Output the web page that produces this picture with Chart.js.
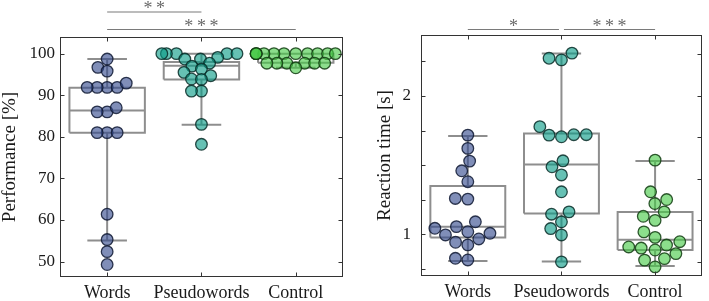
<!DOCTYPE html>
<html><head><meta charset="utf-8">
<script src="https://cdn.jsdelivr.net/npm/chart.js@4.4.1/dist/chart.umd.min.js"></script>
<style>
html,body{margin:0;padding:0;background:#fff;}
#wrap{position:relative;width:709px;height:301px;overflow:hidden;background:#fff}
.panel{position:absolute;top:0;height:301px}
#p1{left:0;width:350px}
#p2{left:360px;width:349px}
</style></head><body>
<div id="wrap"><div class="panel" id="p1"><canvas id="c1"></canvas></div><div class="panel" id="p2"><canvas id="c2"></canvas></div></div>
<script>
// ---------- DATA ----------
const categories = ['Words', 'Pseudowords', 'Control'];

// Performance [%]
const perfWords   = [98.7, 96.7, 95.8, 91.9, 91.9, 91.9, 91.9, 92.9, 86, 86, 87, 81, 81, 81, 61.4, 55.3, 52.4, 49.3];
const perfPseudo  = [100, 100, 100, 100, 100, 99.1, 98.7, 98.7, 97.7, 97, 96.3, 95.5, 94.7, 93.9, 93.8, 91, 91, 83, 78.2];
const perfControl = [100, 100, 100, 100, 100, 100, 100, 100, 100, 100, 100, 97.7, 97.7, 97.7, 97.7, 97.7, 97.7, 96.6];
const perfLow  = [55.1, 82.9, 96.6];
const perfQ1   = [81, 93.8, 97.8];
const perfMed  = [86.3, 97.1, 100];
const perfQ3   = [91.8, 98.0, 100];
const perfHigh = [98.7, 100, 100];
const perfTicks = [50, 60, 70, 80, 90, 100];
const perfSig = [{a: 1, b: 2, label: '**', level: 1}, {a: 1, b: 3, label: '***', level: 0}];

// Reaction time [s]
const rtWords   = [1.717, 1.621, 1.529, 1.459, 1.38, 1.259, 1.254, 1.09, 1.055, 1.043, 1.018, 1.007, 0.995, 0.966, 0.942, 0.923, 0.826, 0.814];
const rtPseudo  = [2.31, 2.273, 2.261, 1.778, 1.72, 1.72, 1.717, 1.705, 1.531, 1.488, 1.429, 1.307, 1.162, 1.145, 1.09, 1.041, 0.995, 0.80];
const rtControl = [1.536, 1.307, 1.251, 1.222, 1.162, 1.13, 1.10, 1.017, 0.977, 0.946, 0.922, 0.908, 0.90, 0.886, 0.86, 0.824, 0.813, 0.764];
const rtLow  = [0.807, 0.802, 0.771];
const rtQ1   = [0.976, 1.15, 0.886];
const rtMed  = [1.055, 1.504, 0.961];
const rtQ3   = [1.349, 1.729, 1.161];
const rtHigh = [1.711, 2.307, 1.53];
const rtTicks = [1, 2];
const rtLeftMarks = [0.75, 1, 1.25, 1.5, 1.75, 2, 2.25];
const rtRightMarks = [0.8, 1.1, 1.4, 1.7, 2.0, 2.3];
const rtSig = [{a: 1, b: 2, label: '*', level: 0}, {a: 2, b: 3, label: '***', level: 0}];

// ---------- STYLE ----------
const SERIF = "'Liberation Serif', 'Times New Roman', serif";
const fills   = ['rgba(50,72,141,0.62)', 'rgba(8,155,134,0.62)', 'rgba(69,201,69,0.62)'];
const borders = ['rgba(15,25,50,0.85)', 'rgba(8,45,40,0.85)', 'rgba(18,60,18,0.85)'];
const BOX_COLOR = '#8e8e8e';

function boxPath(i, low, q1, med, q3, high) {
  const c = i + 1, w = 0.4, cw = 0.21;
  return [
    {x: c - w, y: q1}, {x: c + w, y: q1}, {x: c + w, y: q3}, {x: c - w, y: q3}, {x: c - w, y: q1}, {x: c, y: null},
    {x: c - w, y: med}, {x: c + w, y: med}, {x: c, y: null},
    {x: c, y: q3}, {x: c, y: high}, {x: c, y: null},
    {x: c - cw, y: high}, {x: c + cw, y: high}, {x: c, y: null},
    {x: c, y: q1}, {x: c, y: low}, {x: c, y: null},
    {x: c - cw, y: low}, {x: c + cw, y: low}
  ];
}

const framePlugin = {
  id: 'frame',
  afterDatasetsDraw(chart, args, o) {
    const {ctx, chartArea: a, scales: {x, y}} = chart;
    ctx.save();
    ctx.strokeStyle = '#333';
    ctx.lineWidth = 1;
    const L = Math.round(a.left) + 0.5, R = Math.round(a.right) - 0.5, T = Math.round(a.top) + 0.5, B = Math.round(a.bottom) - 0.5;
    ctx.strokeRect(L, T, R - L, B - T);
    const len = 4;
    ctx.beginPath();
    for (const v of o.xMarks) {
      const px = Math.round(x.getPixelForValue(v)) + 0.5;
      ctx.moveTo(px, T); ctx.lineTo(px, T + len);
      ctx.moveTo(px, B); ctx.lineTo(px, B - len);
    }
    for (const v of o.leftMarks) {
      const py = Math.round(y.getPixelForValue(v)) + 0.5;
      ctx.moveTo(L, py); ctx.lineTo(L + len, py);
    }
    for (const v of o.rightMarks) {
      const py = Math.round(y.getPixelForValue(v)) + 0.5;
      ctx.moveTo(R, py); ctx.lineTo(R - len, py);
    }
    ctx.stroke();
    ctx.restore();
  }
};

const sigPlugin = {
  id: 'sig',
  afterDraw(chart, args, o) {
    const {ctx, scales: {x}} = chart;
    ctx.save();
    o.pairs.forEach(p => {
      const ly = o.levelY[p.level];
      let x1 = x.getPixelForValue(p.a), x2 = x.getPixelForValue(p.b);
      o.pairs.forEach(q => {
        if (q === p || q.level !== p.level) return;
        if (q.a === p.b) x2 -= o.trim;
        if (q.b === p.a) x1 += o.trim;
      });
      ctx.strokeStyle = o.lineColor;
      ctx.lineWidth = 1.2;
      ctx.beginPath();
      ctx.moveTo(x1, ly + 0.5); ctx.lineTo(x2, ly + 0.5);
      ctx.stroke();
      ctx.fillStyle = '#6a6a6a';
      ctx.font = '18px ' + SERIF;
      ctx.textAlign = 'center';
      ctx.textBaseline = 'alphabetic';
      const label = p.label.split('').join('\u2009');
      ctx.fillText(label, (x1 + x2) / 2, ly + o.textDy);
    });
    ctx.restore();
  }
};

function makeChart(canvasId, groups, box, cfg) {
  const datasets = [];
  groups.forEach((vals, i) => {
    datasets.push({
      type: 'scatter',
      label: categories[i],
      data: vals.map(v => ({x: i + 1, y: v})),
      backgroundColor: fills[i],
      borderColor: borders[i],
      borderWidth: 1.3,
      pointRadius: 5.8,
      pointHoverRadius: 5.8,
      order: 1
    });
  });
  groups.forEach((vals, i) => {
    datasets.push({
      type: 'line',
      label: categories[i] + ' box',
      data: boxPath(i, box.low[i], box.q1[i], box.med[i], box.q3[i], box.high[i]),
      borderColor: BOX_COLOR,
      borderWidth: 2,
      pointRadius: 0,
      fill: false,
      spanGaps: false,
      tension: 0,
      order: 2
    });
  });
  const chart = new Chart(document.getElementById(canvasId), {
    type: 'scatter',
    data: {datasets},
    options: {
      responsive: true,
      maintainAspectRatio: false,
      animation: false,
      events: [],
      layout: {padding: {top: cfg.padTop, right: cfg.padRight, left: 0, bottom: 0}},
      plugins: {
        legend: {display: false},
        tooltip: {enabled: false},
        frame: {xMarks: [1, 2, 3], leftMarks: cfg.leftMarks, rightMarks: cfg.rightMarks},
        sig: {pairs: cfg.sig, levelY: cfg.levelY, trim: 2.5, textDy: 2.5, lineColor: '#7a7a7a'}
      },
      scales: {
        x: {
          type: 'linear', min: 0.5, max: 3.5,
          afterBuildTicks: s => { s.ticks = [1, 2, 3].map(v => ({value: v})); },
          afterFit: s => { s.height = cfg.xHeight; },
          grid: {display: false, drawTicks: false},
          border: {display: false},
          ticks: {
            autoSkip: false, maxRotation: 0, minRotation: 0, padding: 5,
            color: '#1a1a1a', font: {family: SERIF, size: 18},
            callback: v => categories[v - 1]
          }
        },
        y: {
          type: 'linear', min: cfg.yMin, max: cfg.yMax,
          afterBuildTicks: s => { s.ticks = cfg.yTicks.map(v => ({value: v})); },
          afterFit: s => { s.width = cfg.yWidth; },
          grid: {display: false, drawTicks: false},
          border: {display: false},
          ticks: {padding: cfg.yPad, color: '#1a1a1a', font: {family: SERIF, size: 17}, callback: v => String(v)},
          title: {display: true, text: cfg.title, color: '#1a1a1a', font: {family: SERIF, size: 19, lineHeight: 1}, padding: {top: cfg.titlePad, bottom: 0}}
        }
      }
    },
    plugins: [framePlugin, sigPlugin]
  });

  // beeswarm layout of the points, in pixel space
  const xs = chart.scales.x, ys = chart.scales.y;
  const ppu = xs.getPixelForValue(2) - xs.getPixelForValue(1);
  const D = cfg.swarmGap, maxOff = 0.42 * ppu;
  groups.forEach((vals, gi) => {
    const order = vals.map((v, i) => i).sort((a, b) => vals[a] - vals[b]);
    const placed = [];
    const off = new Array(vals.length).fill(0);
    for (const i of order) {
      const py = ys.getPixelForValue(vals[i]);
      const cands = [0];
      for (const p of placed) {
        const dy = Math.abs(p.y - py);
        if (dy < D) { const dx = Math.sqrt(D * D - dy * dy); cands.push(p.x + dx, p.x - dx); }
      }
      cands.sort((a, b) => (Math.abs(a) - Math.abs(b)) || (a - b));
      let chosen = 0;
      for (const c of cands) {
        if (placed.every(p => (p.x - c) ** 2 + (p.y - py) ** 2 >= D * D - 0.01)) { chosen = c; break; }
      }
      if (Math.abs(chosen) > maxOff) chosen = Math.sign(chosen) * maxOff;
      placed.push({x: chosen, y: py});
      off[i] = chosen;
    }
    chart.data.datasets[gi].data = vals.map((v, i) => ({x: gi + 1 + off[i] / ppu, y: v}));
  });
  chart.update('none');
  return chart;
}

makeChart('c1', [perfWords, perfPseudo, perfControl],
  {low: perfLow, q1: perfQ1, med: perfMed, q3: perfQ3, high: perfHigh},
  {padTop: 37, padRight: 6, xHeight: 24, yWidth: 60, yPad: 5, titlePad: 0.5, swarmGap: 10,
   yMin: 46.3, yMax: 104, yTicks: perfTicks, title: 'Performance [%]',
   leftMarks: perfTicks, rightMarks: perfTicks, sig: perfSig, levelY: [29, 11.5]});

makeChart('c2', [rtWords, rtPseudo, rtControl],
  {low: rtLow, q1: rtQ1, med: rtMed, q3: rtQ3, high: rtHigh},
  {padTop: 35, padRight: 4, xHeight: 25, yWidth: 61, yPad: 10, titlePad: 15.5, swarmGap: 12.5,
   yMin: 0.698, yMax: 2.441, yTicks: rtTicks, title: 'Reaction time [s]',
   leftMarks: rtLeftMarks, rightMarks: rtRightMarks, sig: rtSig, levelY: [29]});
</script>
</body></html>
